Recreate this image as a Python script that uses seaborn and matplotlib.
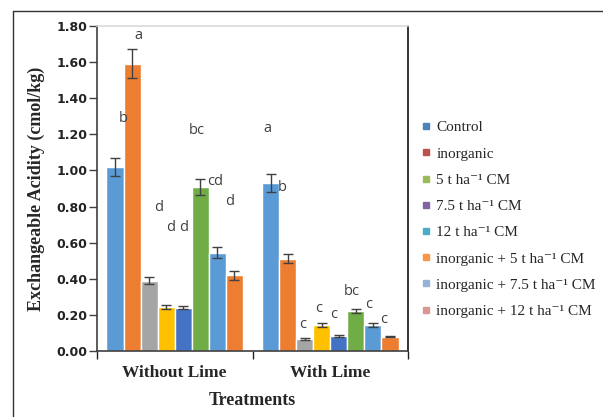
import matplotlib
matplotlib.use("Agg")
import matplotlib.pyplot as plt
from matplotlib.lines import Line2D
from matplotlib.ticker import FixedLocator, FormatStrFormatter
import seaborn as sns
import pandas as pd

# ---------------- data ----------------
groups = ["Without Lime", "With Lime"]
treatments = ["Control", "inorganic", "5 t ha\u207b\u00b9 CM", "7.5 t ha\u207b\u00b9 CM",
              "12 t ha\u207b\u00b9 CM", "inorganic + 5 t ha\u207b\u00b9 CM",
              "inorganic + 7.5 t ha\u207b\u00b9 CM", "inorganic + 12 t ha\u207b\u00b9 CM"]
values_without = [1.02, 1.59, 0.39, 0.245, 0.24, 0.91, 0.545, 0.42]
errors_without = [0.05, 0.08, 0.02, 0.01, 0.01, 0.045, 0.03, 0.025]
values_with = [0.93, 0.51, 0.065, 0.145, 0.085, 0.222, 0.143, 0.08]
errors_with = [0.05, 0.025, 0.005, 0.01, 0.005, 0.012, 0.01, 0.005]
letters_without = ["b", "a", "bc", "d", "d", "d", "cd", "d"]
letters_with = ["a", "b", "c", "c", "c", "bc", "c", "c"]
yticks = [0.0, 0.2, 0.4, 0.6, 0.8, 1.0, 1.2, 1.4, 1.6, 1.8]

bar_colors = ["#5B9BD5", "#ED7D31", "#A5A5A5", "#FFC000", "#4472C4", "#70AD47", "#5B9BD5", "#ED7D31"]
legend_colors = ["#4F81BD", "#C0504D", "#9BBB59", "#8064A2", "#4BACC6", "#F79646", "#95B3D7", "#D99694"]

# letter positions (layout, in data coords)
letter_pos_without = [(-0.333, 1.286), (-0.236, 1.749), (0.143, 1.219), (-0.101, 0.794),
                      (-0.024, 0.684), (0.059, 0.684), (0.259, 0.938), (0.355, 0.828)]
letter_pos_with = [(0.593, 1.230), (0.690, 0.905), (0.825, 0.149), (0.928, 0.237),
                   (1.024, 0.204), (1.140, 0.331), (1.249, 0.259), (1.346, 0.177)]

df = pd.DataFrame({
    "group": [groups[0]] * 8 + [groups[1]] * 8,
    "treatment": treatments + treatments,
    "value": values_without + values_with,
})
errs = [errors_without, errors_with]

sns.set_theme(style="white")
plt.rcParams["font.family"] = ["DejaVu Sans"]

fig = plt.figure(figsize=(6.03, 4.17), dpi=100)
ax = fig.add_axes([97 / 603, 1 - 351 / 417, (408 - 97) / 603, (351 - 26) / 417])

sns.barplot(data=df, x="group", y="value", hue="treatment", order=groups,
            hue_order=treatments, palette=bar_colors, width=0.878, errorbar=None,
            edgecolor="white", linewidth=1.0, saturation=1, legend=False, ax=ax)

bar_containers = list(ax.containers)
for i, cont in enumerate(bar_containers):
    for j, bar in enumerate(cont.patches):
        if bar is None:
            continue
        xc = bar.get_x() + bar.get_width() / 2
        ax.errorbar(xc, bar.get_height(), yerr=errs[j][i], fmt="none",
                    ecolor="#404040", elinewidth=1.0, capsize=3.5, capthick=1.0, zorder=5)

for (x, y), t in zip(letter_pos_without + letter_pos_with, letters_without + letters_with):
    ax.text(x, y, t, ha="center", va="center", fontsize=10.5, color="#404040",
            family=["Open Sans", "DejaVu Sans"])

ax.set_xlim(-0.5, 1.5)
ax.set_ylim(0, 1.8)
ax.yaxis.set_major_locator(FixedLocator(yticks))
ax.yaxis.set_major_formatter(FormatStrFormatter("%.2f"))
for lab in ax.get_yticklabels():
    lab.set_fontweight("bold")
    lab.set_fontsize(9)
    lab.set_color("#222222")
ax.tick_params(axis="y", which="major", direction="out", length=6, width=1, color="#404040", pad=1,
               left=True)
ax.set_xticks([0, 1])
ax.set_xticklabels(groups, fontsize=12.5, fontweight="bold", family=["Liberation Serif", "DejaVu Serif"])
ax.tick_params(axis="x", which="major", length=0, pad=10)
ax.set_xticks([-0.5, 0.5, 1.5], minor=True)
ax.tick_params(axis="x", which="minor", direction="out", length=6, width=1, color="#222222", bottom=True)

ax.set_xlabel("Treatments", fontsize=13, fontweight="bold", family=["Liberation Serif", "DejaVu Serif"],
              labelpad=8)
ax.set_ylabel("Exchangeable Acidity (cmol/kg)", fontsize=13, fontweight="bold",
              family=["Liberation Serif", "DejaVu Serif"], labelpad=8)

ax.spines["left"].set_color("#404040")
ax.spines["left"].set_linewidth(1.2)
ax.spines["bottom"].set_color("#404040")
ax.spines["bottom"].set_linewidth(1.2)
ax.spines["top"].set_color("#D9D9D9")
ax.spines["top"].set_linewidth(1.2)
ax.spines["right"].set_color("#111111")
ax.spines["right"].set_linewidth(1.2)

handles = [Line2D([0], [0], marker="s", linestyle="none", markersize=5,
                  markerfacecolor=c, markeredgecolor=c) for c in legend_colors]
fig.legend(handles, treatments, loc="upper left", bbox_to_anchor=(408 / 603, 1 - 107 / 417),
           frameon=False, handlelength=0.6, handletextpad=0.35, labelspacing=0.82,
           prop={"family": ["Liberation Serif", "DejaVu Serif"], "size": 11})

# outer frame lines
fig.add_artist(Line2D([13 / 603, 1.0], [1 - 11 / 417, 1 - 11 / 417], color="#333333", lw=1.0))
fig.add_artist(Line2D([13 / 603, 13 / 603], [0, 1 - 11 / 417], color="#333333", lw=1.0))

fig.savefig("out.png", dpi=100)
